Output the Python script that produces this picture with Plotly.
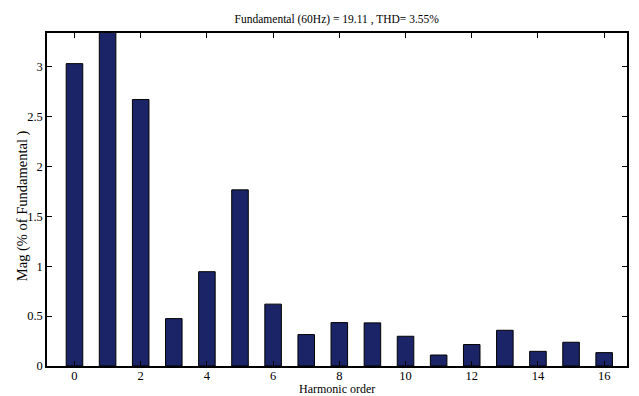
import plotly.graph_objects as go

# Harmonic spectrum, magnitudes in % of the fundamental (order 1 = fundamental = 100%)
orders = list(range(0, 17))
magnitudes = [3.03, 100.0, 2.67, 0.475, 0.945, 1.765, 0.62, 0.315, 0.435, 0.432,
              0.298, 0.11, 0.215, 0.358, 0.147, 0.238, 0.134]

x_ticks = list(range(0, 17, 2))
y_ticks = [0, 0.5, 1, 1.5, 2, 2.5, 3]
y_tick_text = ["0", "0.5", "1", "1.5", "2", "2.5", "3"]

title_text = "Fundamental (60Hz) = 19.11 , THD= 3.55%"
x_title = "Harmonic order"
y_title = "Mag (% of Fundamental )"

serif = "Liberation Serif"

fig = go.Figure(
    go.Bar(
        x=orders,
        y=magnitudes,
        width=0.5,
        marker=dict(color="#1b2467", line=dict(color="#000000", width=1)),
        hoverinfo="x+y",
    )
)

fig.update_layout(
    width=639,
    height=396,
    margin=dict(l=47, r=12, t=33, b=30, autoexpand=False),
    paper_bgcolor="white",
    plot_bgcolor="white",
    showlegend=False,
    font=dict(family=serif, size=13, color="black"),
    title=dict(
        text=title_text,
        x=0.527,
        xanchor="center",
        y=0.952,
        yanchor="middle",
        font=dict(family=serif, size=11.5, color="black"),
    ),
    annotations=[
        # axis titles placed as annotations for exact positioning
        dict(
            text=x_title,
            xref="paper", yref="paper",
            x=0.5, y=0,
            xanchor="center", yanchor="middle",
            yshift=-23,
            showarrow=False,
            font=dict(family=serif, size=12, color="black"),
        ),
        dict(
            text=y_title,
            xref="paper", yref="paper",
            x=0, y=0.48,
            xanchor="center", yanchor="middle",
            xshift=-25,
            textangle=-90,
            showarrow=False,
            font=dict(family=serif, size=14.5, color="black"),
        ),
    ],
)

fig.update_xaxes(
    range=[-0.83, 16.69],
    tickvals=x_ticks,
    ticks="inside",
    ticklen=5,
    tickcolor="black",
    showline=True,
    linecolor="black",
    linewidth=1.5,
    mirror="ticks",
    showgrid=False,
    zeroline=False,
    automargin=False,
    ticklabelstandoff=-3,
    tickfont=dict(family=serif, size=12.5),
)

fig.update_yaxes(
    range=[0, 3.337],
    tickvals=y_ticks,
    ticktext=y_tick_text,
    ticks="inside",
    ticklen=5,
    tickcolor="black",
    showline=True,
    linecolor="black",
    linewidth=1.5,
    mirror="ticks",
    showgrid=False,
    zeroline=False,
    automargin=False,
    tickfont=dict(family=serif, size=12.5),
)

fig.write_html("out.html")
